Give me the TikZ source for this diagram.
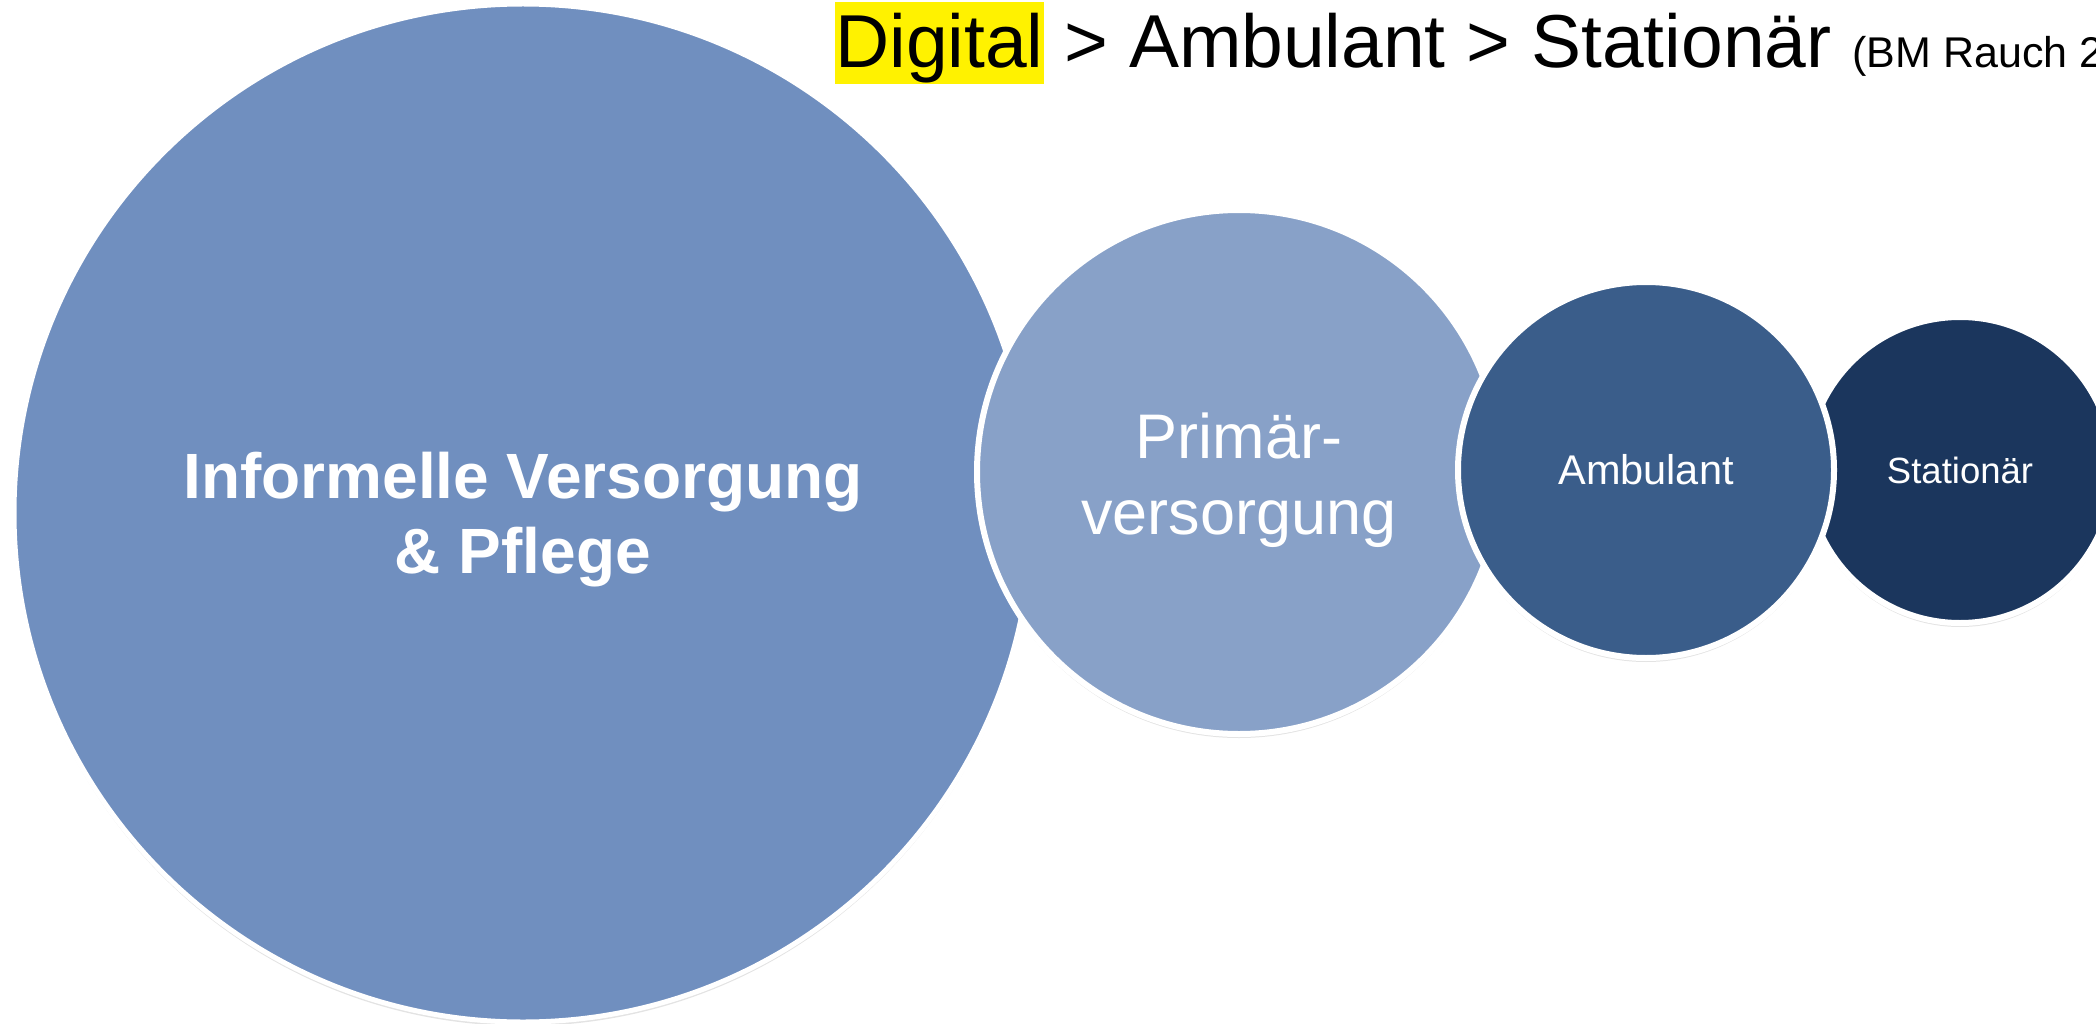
\documentclass[tikz,border=0pt]{standalone}
\usepackage{fontspec}
\setmainfont{Liberation Sans}
\usetikzlibrary{shadows}
\definecolor{cbig}{RGB}{112,143,191}
\definecolor{cprim}{RGB}{136,161,200}
\definecolor{camb}{RGB}{58,93,138}
\definecolor{cstat}{RGB}{27,54,93}
\tikzset{
  bubble/.style={circle, draw=white, line width=6pt, inner sep=0pt,
    drop shadow={opacity=0.22, shadow xshift=0pt, shadow yshift=-4pt}},
  bubbletext/.style={text=white, align=center, inner sep=0pt},
}
\begin{document}
\begin{tikzpicture}[x=1pt,y=-1pt]
\useasboundingbox (0,0) rectangle (2096,1024);
\fill[white] (0,0) rectangle (2096,1024);
% circles (back to front)
\node[bubble, fill=cbig, line width=5pt, minimum size=1018pt] (informell) at (523,513) {};
\node[bubbletext, font=\fontsize{64}{75}\selectfont\bfseries, yshift=-7pt] (informelltext) at (informell.center)
  {Informelle Versorgung\\ \& Pflege};
\node[bubble, fill=cstat, minimum size=306pt] (stationaer) at (1960,470) {};
\node[bubbletext, font=\fontsize{36.5}{40}\selectfont] (stationaertext) at (stationaer.center) {Stationär};
\node[bubble, fill=cprim, minimum size=524pt] (primaer) at (1239,472) {};
\node[bubbletext, font=\fontsize{63}{76}\selectfont, yshift=-8pt] (primaertext) at (primaer.center) {Primär-\\versorgung};
\node[bubble, fill=camb, minimum size=376pt] (ambulant) at (1646,470) {};
\node[bubbletext, font=\fontsize{41.5}{45}\selectfont] (ambulanttext) at (ambulant.center) {Ambulant};
% title
\node[anchor=base west, inner sep=0pt, text=black] (title) at (835,68)
  {\fontsize{75}{80}\selectfont{\fboxsep=0pt\colorbox{yellow}{\rule[-16pt]{0pt}{82pt}Digital}} > Ambulant > Stationär {\fontsize{43}{46}\selectfont(BM Rauch 2}};
\end{tikzpicture}
\end{document}
